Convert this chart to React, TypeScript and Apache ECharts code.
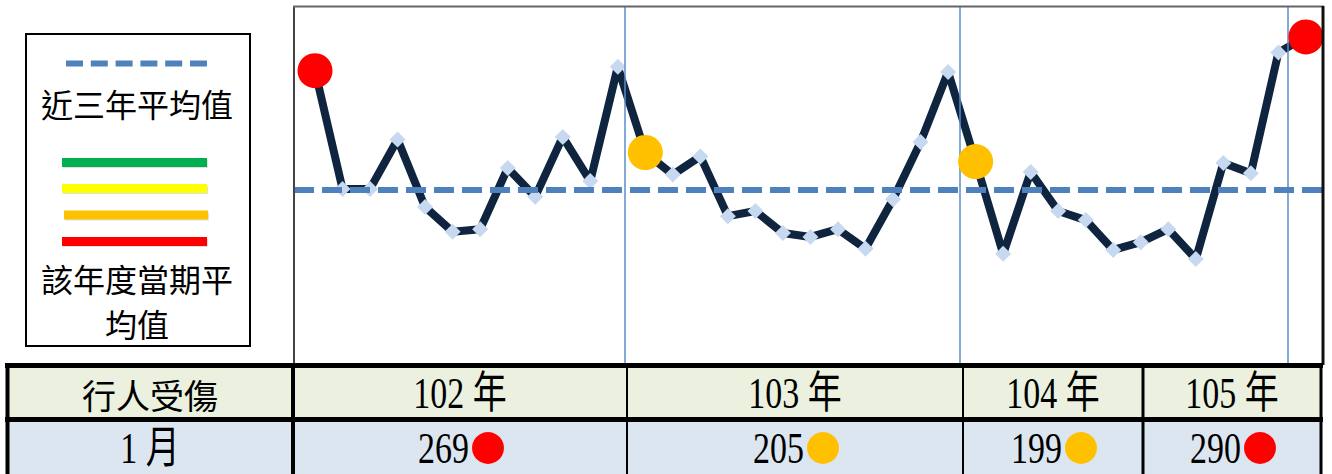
import React, { useEffect, useRef } from "react";
import * as echarts from "echarts";

// ---- data ----
const rocYears = ["102", "103", "104", "105"];
const monthNumbers = [1, 2, 3, 4, 5, 6, 7, 8, 9, 10, 11, 12];
const monthLabels: string[] = [];
rocYears.forEach((y, yi) => {
  monthNumbers.forEach((m) => {
    if (yi < 3 || m === 1) monthLabels.push(`${y}/${m}`);
  });
});

const monthlyInjuries = [
  269, 178, 178, 216, 164, 145, 147, 194, 172, 218, 184, 272,
  206, 189, 203, 157, 161, 144, 141, 147, 132, 170, 214, 268,
  199, 128, 191, 161, 154, 131, 137, 147, 124, 198, 190, 283,
  295,
];
const januaryIndex = [0, 12, 24, 36];
const januaryLevels = ["red", "orange", "orange", "red"];
const levelColors: Record<string, string> = {
  green: "#00B050",
  yellow: "#FFFF00",
  orange: "#FFC000",
  red: "#FF0000",
};
const threeYearAverage = 177.4;
const yearDividers = [11.26, 23.43, 35.34];

const rowTitle = "行人受傷";
const monthTitle = "1 月";
const yearLabels = ["102 年", "103 年", "104 年", "105 年"];
const januaryTotals = [269, 205, 199, 290];
const legendAvgText = "近三年平均值";
const legendPeriodText = "該年度當期平\n均值";

// ---- layout ----
const CJK = "'Noto Sans CJK TC', 'Noto Sans CJK SC', sans-serif";
const SERIF = "'Liberation Serif', 'Noto Sans CJK TC', serif";
const colCenters = [460, 795, 1053, 1232];

function txt(text: string, x: number, y: number, fontSize: number, family: string, scaleX = 1, align = "center", scaleY = 1) {
  return {
    type: "text",
    x,
    y,
    scaleX,
    scaleY,
    z: 20,
    silent: true,
    style: {
      text,
      fontSize,
      fontFamily: family,
      fill: "#000",
      align,
      verticalAlign: "middle",
      textAlign: align,
      textVerticalAlign: "middle",
    },
  };
}

function hline(x1: number, x2: number, y: number, lw: number, color = "#000", z = 15) {
  return { type: "line", z, silent: true, shape: { x1, y1: y, x2, y2: y }, style: { stroke: color, lineWidth: lw } };
}
function vline(x: number, y1: number, y2: number, lw: number, color = "#000", z = 15) {
  return { type: "line", z, silent: true, shape: { x1: x, y1, x2: x, y2 }, style: { stroke: color, lineWidth: lw } };
}

function buildGraphics() {
  const g: any[] = [];
  // plot frame
  g.push(vline(294, 6, 365, 2, "#444"));
  g.push(hline(293, 1324, 6.5, 2, "#666"));
  g.push(vline(1323, 6, 365, 3, "#111"));

  // legend box
  g.push({ type: "rect", z: 5, silent: true, shape: { x: 26, y: 34, width: 224, height: 312 }, style: { fill: "#fff", stroke: "#000", lineWidth: 2 } });
  g.push({ type: "line", z: 10, silent: true, shape: { x1: 66, y1: 63.5, x2: 207, y2: 63.5 }, style: { stroke: "#4F81BD", lineWidth: 6, lineDash: [17, 7.8] } });
  g.push(txt(legendAvgText, 137, 103, 32, CJK));
  const legendLines = [
    { c: levelColors.green, y: 162.5, x1: 62, x2: 207 },
    { c: levelColors.yellow, y: 188.5, x1: 62, x2: 207 },
    { c: levelColors.orange, y: 215, x1: 64, x2: 208 },
    { c: levelColors.red, y: 241.5, x1: 62, x2: 207 },
  ];
  legendLines.forEach((l) => {
    g.push({
      type: "rect",
      z: 9,
      silent: true,
      shape: { x: l.x1 + 1, y: l.y - 2.5, width: l.x2 - l.x1, height: 8 },
      style: { fill: "rgba(0,0,0,0.12)" },
    });
    g.push({
      type: "rect",
      z: 10,
      silent: true,
      shape: { x: l.x1, y: l.y - 4.5, width: l.x2 - l.x1, height: 9 },
      style: { fill: l.c },
    });
  });
  g.push({
    type: "text",
    x: 137,
    y: 300,
    z: 20,
    silent: true,
    style: {
      text: legendPeriodText,
      fontSize: 32,
      lineHeight: 45,
      fontFamily: CJK,
      fill: "#000",
      align: "center",
      verticalAlign: "middle",
      textAlign: "center",
      textVerticalAlign: "middle",
    },
  });

  // table backgrounds
  g.push({ type: "rect", z: 5, silent: true, shape: { x: 7, y: 366, width: 1315, height: 53 }, style: { fill: "#EBF1DE" } });
  g.push({ type: "rect", z: 5, silent: true, shape: { x: 7, y: 420, width: 1315, height: 54 }, style: { fill: "#DCE6F1" } });
  // table borders
  g.push(hline(5, 1323, 365.5, 5));
  g.push(hline(5, 1323, 419.5, 5));
  g.push(vline(7.5, 363, 474, 4));
  g.push(vline(293, 363, 474, 4));
  g.push(vline(627, 363, 474, 2));
  g.push(vline(963, 363, 474, 2));
  g.push(vline(1143, 363, 474, 3));
  g.push(vline(1321, 363, 474, 3));

  // table texts
  g.push(txt(rowTitle, 150, 394, 34, CJK));
  g.push(txt(monthTitle, 150, 448, 40, SERIF, 0.85, "center", 1.1));
  yearLabels.forEach((lab, i) => g.push(txt(lab, colCenters[i], 393, 40, SERIF, 0.85, "center", 1.1)));
  januaryTotals.forEach((v, i) => {
    const cx = colCenters[i];
    g.push(txt(String(v), cx + 9, 448, 40, SERIF, 0.85, "right", 1.1));
    g.push({
      type: "circle",
      z: 20,
      silent: true,
      shape: { cx: cx + 28, cy: 448, r: 16 },
      style: { fill: levelColors[januaryLevels[i]] },
    });
  });
  return g;
}

export default function App() {
  const ref = useRef<HTMLDivElement>(null);
  useEffect(() => {
    if (!ref.current) return;
    const chart = echarts.init(ref.current, null, { renderer: "svg" });
    const lineData = monthlyInjuries.map((v, i) => [i, v]);
    chart.setOption({
      animation: false,
      backgroundColor: "#fff",
      grid: { left: 294, top: 7, width: 1029, height: 356, show: false },
      xAxis: {
        type: "value",
        min: -0.763,
        max: 36.62,
        show: false,
        splitLine: { show: false },
      },
      yAxis: {
        type: "value",
        min: 44,
        max: 318,
        show: false,
        splitLine: { show: false },
      },
      series: [
        {
          name: "年度分隔",
          type: "line",
          data: [],
          z: 1,
          silent: true,
          markLine: {
            silent: true,
            symbol: ["none", "none"],
            label: { show: false },
            lineStyle: { color: "#5B8CC8", width: 1.5, type: "solid", opacity: 1 },
            data: yearDividers.map((x) => ({ xAxis: x })),
          },
        },
        {
          name: rowTitle,
          type: "line",
          data: lineData,
          z: 2,
          showSymbol: false,
          symbol: "none",
          lineStyle: { color: "#0F243E", width: 8, join: "round", opacity: 1 },
          silent: true,
        },
        {
          name: legendAvgText,
          type: "line",
          data: [],
          z: 3,
          silent: true,
          markLine: {
            silent: true,
            symbol: ["none", "none"],
            label: { show: false },
            lineStyle: { color: "#4F81BD", width: 6, type: [20, 8], opacity: 1 },
            data: [{ yAxis: threeYearAverage }],
          },
        },
        {
          name: "月",
          type: "scatter",
          data: lineData,
          z: 4,
          symbol: "diamond",
          symbolSize: 16,
          itemStyle: { color: "#C6D9F0", opacity: 1 },
          silent: true,
        },
        {
          name: "一月",
          type: "scatter",
          z: 5,
          symbol: "circle",
          symbolSize: 35,
          silent: true,
          itemStyle: { opacity: 1 },
          data: januaryIndex.map((idx, k) => ({
            value: [idx, monthlyInjuries[idx]],
            itemStyle: { color: levelColors[januaryLevels[k]], opacity: 1 },
          })),
        },
      ],
      graphic: { elements: buildGraphics() },
    });
    return () => chart.dispose();
  }, []);
  return (
    <div
      ref={ref}
      style={{ position: "absolute", left: 0, top: 0, width: 1332, height: 474 }}
    />
  );
}
